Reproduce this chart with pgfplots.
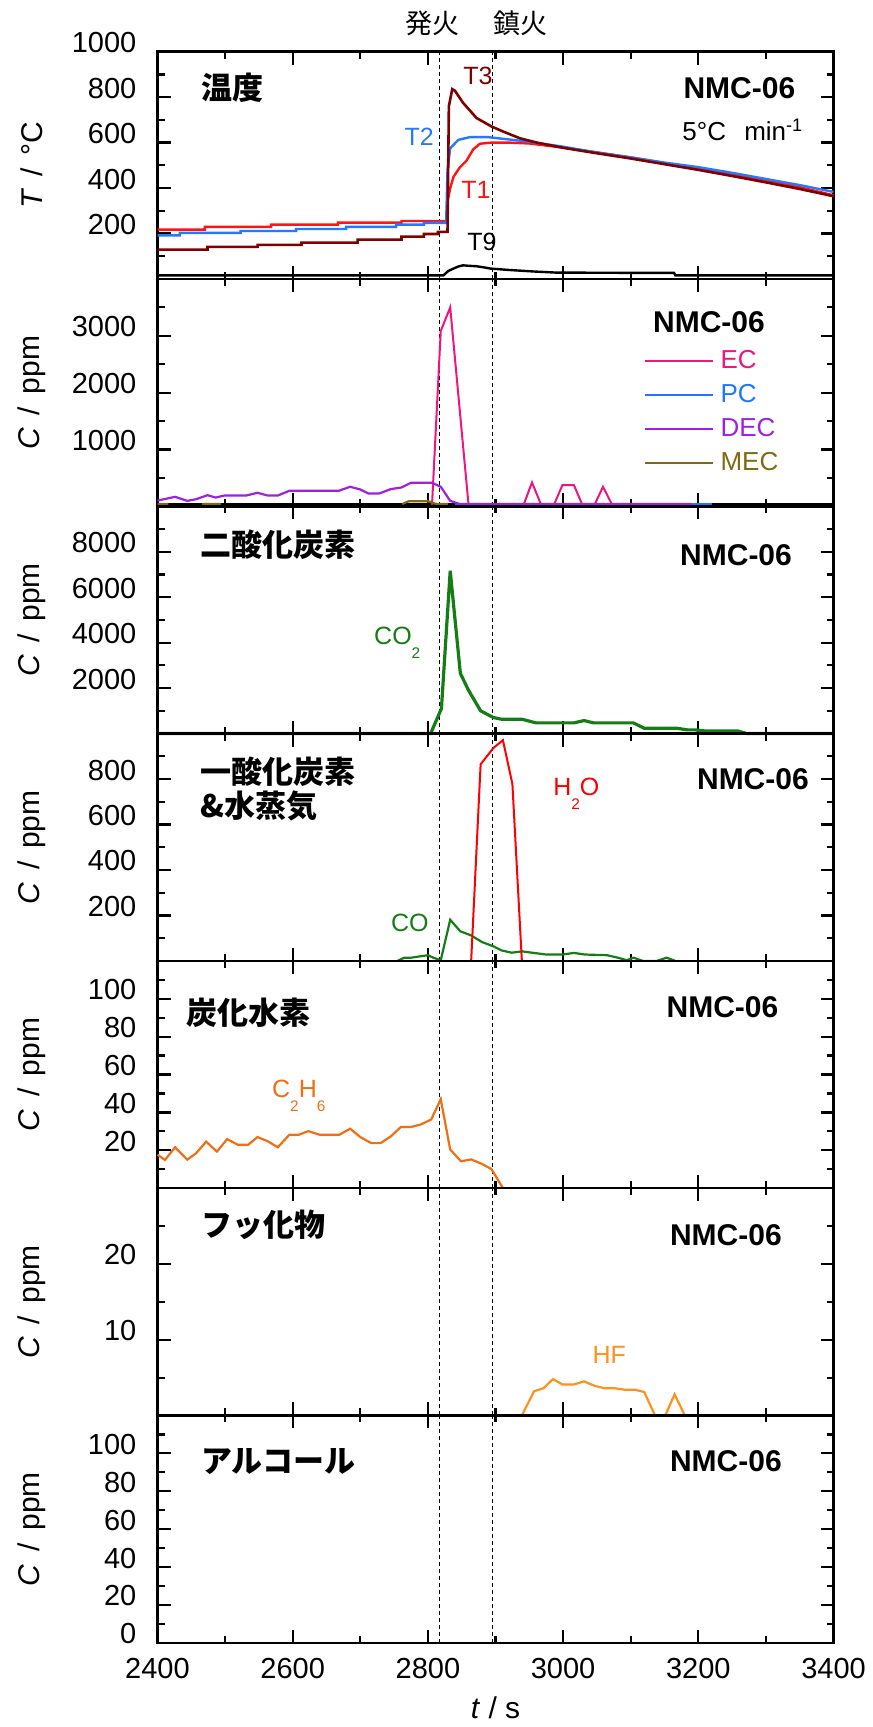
\documentclass[border=0pt]{standalone}
\usepackage{fontspec}
\setmainfont{Liberation Sans}
\newfontfamily\cjk{Noto Sans CJK JP}
\usepackage{pgfplots}
\pgfplotsset{compat=1.18}

\definecolor{tone}{RGB}{255,20,20}
\definecolor{ttwo}{RGB}{40,120,255}
\definecolor{tthree}{RGB}{128,0,0}
\definecolor{ecpink}{RGB}{240,20,127}
\definecolor{pcblue}{RGB}{30,120,255}
\definecolor{decpurple}{RGB}{160,32,224}
\definecolor{mecolive}{RGB}{128,105,20}
\definecolor{cogreen}{RGB}{20,125,20}
\definecolor{h2ored}{RGB}{255,0,0}
\definecolor{c2h6orange}{RGB}{240,110,20}
\definecolor{hforange}{RGB}{255,145,30}

\newcommand{\sub}[1]{\raisebox{-7pt}{\fontsize{7.7}{8}\selectfont #1}}
\newcommand{\tl}[1]{\mbox{\fontsize{14.5}{14.5}\selectfont #1}}
\newcommand{\slsep}{\hspace{0.42em}/\hspace{0.42em}}

\pgfplotsset{
 panel/.style={
  scale only axis, width=338pt, height=113.65pt, anchor=north west,
  xmin=2400, xmax=3400, xtick={2400,2600,...,3400}, minor x tick num=1,
  tick align=inside, major tick length=6.5pt, minor tick length=3.5pt,
  axis line style={line width=1.3pt},
  every tick/.style={black, line width=1.1pt},
  xticklabels={},
  scaled y ticks=false, scaled x ticks=false,
  yticklabel style={inner sep=0pt, anchor=east, xshift=-10.4pt, yshift=4.5pt},
  xticklabel style={inner sep=0pt, anchor=north, yshift=-7.3pt},
  every axis y label/.style={at={(axis description cs:-0.186,0.5)}, rotate=90, anchor=center, font=\fontsize{15}{15}\selectfont},
  every axis x label/.style={at={(axis description cs:0.5,0)}, anchor=center, yshift=-32.5pt, font=\fontsize{15}{15}\selectfont},
  clip=false,
  ylabel={\textit{C}\slsep ppm},
 },
 dline/.style={black, line width=0.55pt, dash pattern=on 2pt off 1.5pt, forget plot},
}
\tikzset{
 jtitle/.style={anchor=west, inner sep=0pt, font=\fontsize{15.5}{17.2}\selectfont\cjk\bfseries},
 nmc/.style={anchor=east, inner sep=0pt, font=\fontsize{15}{15}\selectfont\bfseries},
 slab/.style={inner sep=0pt, font=\fontsize{12.5}{12.5}\selectfont},
}

\begin{document}
\begin{tikzpicture}
\path[use as bounding box] (0,0) rectangle (436pt,863.5pt);

% ---------------- Panel 1: temperature
\begin{axis}[panel, at={(78.75pt,837.65pt)},
  ymin=0, ymax=1000, ytick={0,200,...,1000},
  yticklabels={,\tl{200},\tl{400},\tl{600},\tl{800},\tl{1000}},
  minor y tick num=1, ylabel={\textit{T}\slsep °C}]
\addplot[dline] coordinates {(2817,0) (2817,1000)};
\addplot[dline] coordinates {(2895,0) (2895,1000)};
\addplot[black, line width=1.2pt] coordinates {
(2400,16)(2823,16)(2830,35)(2838,46)(2845,55)(2852,60)(2860,58)(2872,56)(2885,50)(2892,46)(2918,40)(2956,33)(2990,28)(3099,27)(3164,27)(3166,16)(3400,16)};
\addplot[tone, line width=1.2pt] coordinates {
(2400,217)(2470,217)(2470,229)(2568,229)(2568,239)(2667,239)(2667,248)(2761,248)(2761,255)(2827,255)(2829,340)(2833,400)(2838,450)(2847,490)(2857,520)(2867,570)(2877,595)(2894,600)(2920,600)(2950,596)(3000,578)(3050,557)(3100,535)(3150,510)(3200,486)(3250,459)(3300,432)(3350,404)(3400,368)};
\addplot[ttwo, line width=1.2pt] coordinates {
(2400,192)(2433,192)(2433,203)(2523,203)(2523,211)(2605,211)(2605,220)(2679,220)(2679,229)(2753,229)(2753,239)(2794,239)(2794,247)(2827,247)(2829,480)(2833,575)(2845,612)(2862,624)(2889,624)(2916,615)(2946,605)(3000,582)(3050,556)(3100,535)(3150,512)(3200,492)(3250,467)(3300,440)(3350,413)(3400,383)};
\addplot[tthree, line width=1.3pt] coordinates {
(2400,129)(2474,129)(2474,141)(2548,141)(2548,150)(2613,150)(2613,160)(2696,160)(2696,173)(2761,173)(2761,186)(2794,186)(2794,198)(2815,198)(2815,207)(2829,207)(2831,760)(2836,835)(2840,828)(2852,775)(2872,708)(2894,671)(2911,649)(2936,619)(2961,600)(3000,577)(3050,553)(3100,530)(3150,505)(3200,480)(3250,453)(3300,425)(3350,396)(3400,364)};
\node[jtitle] at (rel axis cs:0.064,0.84) {温度};
\node[nmc] at (rel axis cs:0.944,0.84) {NMC-06};
\node[anchor=east, inner sep=0pt, font=\fontsize{13}{13}\selectfont] at (rel axis cs:0.956,0.655) {5°C\hspace{0.7em}min\textsuperscript{-1}};
\node[slab, text=tthree] at (rel axis cs:0.474,0.893) {T3};
\node[slab, text=ttwo] at (rel axis cs:0.387,0.624) {T2};
\node[slab, text=tone] at (rel axis cs:0.471,0.391) {T1};
\node[slab, text=black] at (rel axis cs:0.480,0.163) {T9};
\node[font=\fontsize{13.5}{13.5}\selectfont\cjk, anchor=center, inner sep=0pt, yshift=14.35pt] at (axis cs:2807.5,1000) {発火};
\node[font=\fontsize{13.5}{13.5}\selectfont\cjk, anchor=center, inner sep=0pt, yshift=14.35pt] at (axis cs:2937.7,1000) {鎮火};
\end{axis}

% ---------------- Panel 2: solvents
\begin{axis}[panel, at={(78.75pt,724.0pt)},
  ymin=0, ymax=4000, ytick={0,1000,...,4000},
  yticklabels={,\tl{1000},\tl{2000},\tl{3000},},
  minor y tick num=1,
  legend style={at={(rel axis cs:0.719,0.414)}, anchor=west, draw=none, fill=none,
    inner sep=0pt, row sep=4.5pt, column sep=2.5pt,
    nodes={inner sep=1pt}, font=\fontsize{13}{13}\selectfont},
  legend cell align=left,
  legend image code/.code={\draw[#1, line width=1.0pt] (0pt,0pt) -- (33.8pt,0pt);}]
\addplot[dline] coordinates {(2817,0) (2817,4000)};
\addplot[dline] coordinates {(2895,0) (2895,4000)};
\addplot[black, line width=1.1pt, forget plot] coordinates {(2400,40)(3400,40)};
\addplot[ecpink, line width=1.0pt] coordinates {
(2806,0)(2819,3085)(2833,3500)(2860,40)(2942,40)(2954,420)(2967,40)(2987,40)(2999,373)(3016,373)(3028,40)(3047,40)(3059,343)(3072,40)};
\addlegendentry[text=ecpink]{EC}
\addplot[pcblue, line width=1.1pt] coordinates {(2840,40)(3220,40)};
\addlegendentry[text=pcblue]{PC}
\addplot[decpurple, line width=1.1pt] coordinates {
(2400,100)(2426,166)(2444,95)(2457,124)(2474,195)(2486,154)(2499,189)(2531,189)(2548,237)(2563,189)(2578,189)(2595,272)(2668,272)(2685,343)(2700,296)(2712,225)(2728,225)(2745,302)(2761,331)(2775,414)(2806,414)(2819,343)(2833,95)(2847,40)(3190,40)};
\addlegendentry[text=decpurple]{DEC}
\addplot[mecolive, line width=1.1pt, unbounded coords=jump] coordinates {
(2400,40)(2416,40)(2417,nan)(2466,40)(2494,40)(2495,nan)(2762,40)(2772,90)(2800,90)(2812,40)(2830,40)};
\addlegendentry[text=mecolive]{MEC}
\node[nmc] at (rel axis cs:0.899,0.81) {NMC-06};
\end{axis}

% ---------------- Panel 3: CO2
\begin{axis}[panel, at={(78.75pt,610.35pt)},
  ymin=0, ymax=10000, ytick={0,2000,...,10000},
  yticklabels={,\tl{2000},\tl{4000},\tl{6000},\tl{8000},},
  minor y tick num=1]
\addplot[dline] coordinates {(2817,0) (2817,10000)};
\addplot[dline] coordinates {(2895,0) (2895,10000)};
\addplot[cogreen, line width=1.6pt] coordinates {
(2400,0)(2804,0)(2820,1100)(2833,7160)(2848,2650)(2860,1910)(2878,1000)(2897,705)(2909,632)(2939,632)(2960,470)(3016,470)(3031,573)(3045,470)(3104,470)(3120,235)(3168,235)(3184,162)(3196,162)(3209,118)(3258,118)(3272,0)(3400,0)};
\node[jtitle] at (rel axis cs:0.0636,0.833) {二酸化炭素};
\node[nmc] at (rel axis cs:0.939,0.785) {NMC-06};
\node[slab, text=cogreen, anchor=base west, yshift=-4.5pt] at (rel axis cs:0.32,0.43) {CO\sub{2}};
\end{axis}

% ---------------- Panel 4: CO & H2O
\begin{axis}[panel, at={(78.75pt,496.7pt)},
  ymin=0, ymax=1000, ytick={0,200,...,1000},
  yticklabels={,\tl{200},\tl{400},\tl{600},\tl{800},},
  minor y tick num=1]
\addplot[dline] coordinates {(2817,0) (2817,1000)};
\addplot[dline] coordinates {(2895,0) (2895,1000)};
\addplot[cogreen, line width=1.1pt] coordinates {
(2755,0)(2765,14)(2775,14)(2800,25)(2808,14)(2819,3)(2833,181)(2848,130)(2864,112)(2880,83)(2897,64)(2909,46)(2924,36)(2939,42)(2954,36)(2975,28)(2999,28)(3016,35)(3032,28)(3065,25)(3081,14)(3094,3)(3104,14)(3118,0)(3139,0)(3153,14)(3166,0)};
\addplot[h2ored, line width=1.0pt] coordinates {
(2864,0)(2878,865)(2897,937)(2911,971)(2925,778)(2939,0)};
\node[jtitle, align=left] at (rel axis cs:0.0636,0.756) {一酸化炭素\\\&水蒸気};
\node[nmc] at (rel axis cs:0.964,0.80) {NMC-06};
\node[slab, text=h2ored, anchor=base west, yshift=-4.5pt] at (rel axis cs:0.585,0.769) {H\sub{2}O};
\node[slab, text=cogreen, anchor=base west, yshift=-4.5pt] at (rel axis cs:0.345,0.171) {CO};
\end{axis}

% ---------------- Panel 5: hydrocarbons
\begin{axis}[panel, at={(78.75pt,383.05pt)},
  ymin=0, ymax=120, ytick={0,20,...,120},
  yticklabels={,\tl{20},\tl{40},\tl{60},\tl{80},\tl{100},},
  minor y tick num=1]
\addplot[dline] coordinates {(2817,0) (2817,120)};
\addplot[dline] coordinates {(2895,0) (2895,120)};
\addplot[c2h6orange, line width=1.1pt] coordinates {
(2400,17.7)(2411,14.9)(2426,21.6)(2444,15.1)(2457,18.4)(2472,24.6)(2488,19.3)(2503,25.9)(2519,22.9)(2534,22.9)(2548,27.0)(2563,24.8)(2578,21.6)(2595,28.2)(2609,28.2)(2623,30.1)(2640,28.2)(2655,28.2)(2669,28.2)(2685,31.4)(2700,27.0)(2716,23.8)(2730,23.8)(2745,27.3)(2760,32.3)(2775,32.3)(2790,33.7)(2805,36.3)(2819,47.0)(2833,20.4)(2849,14.2)(2864,15.2)(2880,12.8)(2894,10.1)(2911,0)};
\node[jtitle] at (rel axis cs:0.042,0.77) {炭化水素};
\node[nmc] at (rel axis cs:0.919,0.795) {NMC-06};
\node[slab, text=c2h6orange, anchor=base west, yshift=-4.5pt] at (rel axis cs:0.169,0.438) {C\sub{2}H\sub{6}};
\end{axis}

% ---------------- Panel 6: fluorides
\begin{axis}[panel, at={(78.75pt,269.4pt)},
  ymin=0, ymax=30, ytick={0,10,20,30},
  yticklabels={,\tl{10},\tl{20},},
  minor y tick num=1]
\addplot[dline] coordinates {(2817,0) (2817,30)};
\addplot[dline] coordinates {(2895,0) (2895,30)};
\addplot[hforange, line width=1.1pt] coordinates {
(2939,0)(2957,3.2)(2971,3.6)(2985,4.8)(2999,4.1)(3016,4.1)(3031,4.5)(3047,3.9)(3061,3.6)(3076,3.6)(3091,3.4)(3106,3.4)(3120,3.1)(3136,0)(3151,0)(3165,2.8)(3180,0)};
\node[jtitle] at (rel axis cs:0.064,0.839) {フッ化物};
\node[nmc] at (rel axis cs:0.924,0.795) {NMC-06};
\node[slab, text=hforange, anchor=west] at (rel axis cs:0.643,0.265) {HF};
\end{axis}

% ---------------- Panel 7: alcohols
\begin{axis}[panel, at={(78.75pt,155.75pt)},
  ymin=0, ymax=120, ytick={0,20,...,120},
  yticklabels={\tl{0},\tl{20},\tl{40},\tl{60},\tl{80},\tl{100},},
  minor y tick num=1,
  xticklabels={\tl{2400},\tl{2600},\tl{2800},\tl{3000},\tl{3200},\tl{3400}},
  xlabel={\textit{t} / s}]
\addplot[dline] coordinates {(2817,0) (2817,120)};
\addplot[dline] coordinates {(2895,0) (2895,120)};
\node[jtitle] at (rel axis cs:0.064,0.797) {アルコール};
\node[nmc] at (rel axis cs:0.924,0.797) {NMC-06};
\end{axis}
\end{tikzpicture}
\end{document}
